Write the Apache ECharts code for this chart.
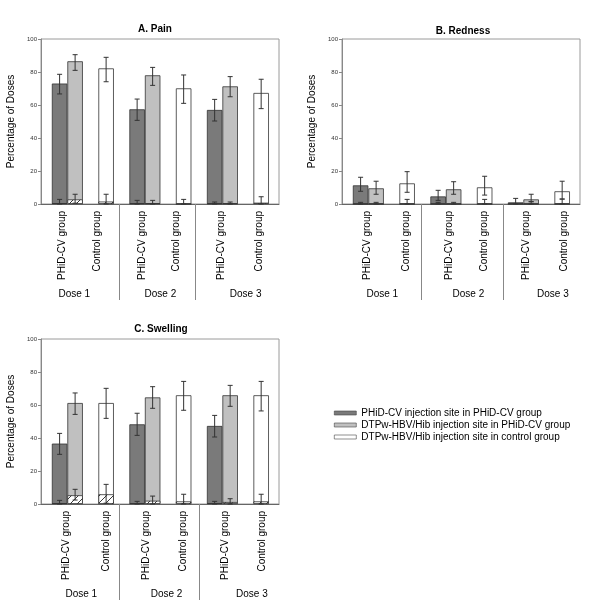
<!DOCTYPE html>
<html>
<head>
<meta charset="utf-8">
<script src="https://cdn.jsdelivr.net/npm/echarts@6/dist/echarts.min.js"></script>
<style>
html,body{margin:0;padding:0;background:#fff;}
#chart{width:600px;height:604px;}
</style>
</head>
<body>
<div id="chart"></div>
<script>
// ---------- data ----------
const doses = ['Dose 1', 'Dose 2', 'Dose 3'];
const groupLabels = ['PHiD-CV group', 'Control group'];
const seriesNames = [
  'PHiD-CV injection site in PHiD-CV group',
  'DTPw-HBV/Hib injection site in PHiD-CV group',
  'DTPw-HBV/Hib injection site in control group'
];
const yTicks = [0, 20, 40, 60, 80, 100];
const panelTitles = ['A. Pain', 'B. Redness', 'C. Swelling'];

// Pain
const painPhid = [73.0, 57.4, 57.0];
const painPhidErr = [[66.7, 78.6], [50.7, 63.6], [50.3, 63.4]];
const painDtpPhid = [86.5, 78.0, 71.3];
const painDtpPhidErr = [[81.0, 90.5], [71.9, 82.8], [65.0, 77.2]];
const painDtpCtrl = [82.2, 70.1, 67.3];
const painDtpCtrlErr = [[74.1, 88.9], [61.0, 78.2], [57.8, 75.6]];
const painG3Phid = [0.5, 0.4, 0.3];
const painG3PhidErr = [[0, 2.8], [0, 2.2], [0, 1.2]];
const painG3DtpPhid = [2.8, 0.4, 0.3];
const painG3DtpPhidErr = [[0.5, 5.9], [0, 2.2], [0, 1.2]];
const painG3DtpCtrl = [1.5, 0, 0.8];
const painG3DtpCtrlErr = [[0, 5.9], [0, 2.8], [0, 4.4]];

// Redness
const redPhid = [11.3, 4.6, 1.0];
const redPhidErr = [[7.7, 16.2], [2.2, 8.3], [0, 3.4]];
const redDtpPhid = [9.5, 8.9, 2.8];
const redDtpPhidErr = [[5.9, 13.8], [5.9, 13.5], [1.4, 5.9]];
const redDtpCtrl = [12.5, 10.1, 7.7];
const redDtpCtrlErr = [[7.1, 19.6], [5.4, 16.8], [3.0, 13.8]];
const redG3Phid = [0, 0, 0];
const redG3PhidErr = [[0, 1.0], [0, 1.0], [0, 0]];
const redG3DtpPhid = [0, 0, 0];
const redG3DtpPhidErr = [[0, 1.0], [0, 1.0], [0, 1.4]];
const redG3DtpCtrl = [0, 0, 0];
const redG3DtpCtrlErr = [[0, 2.8], [0, 2.8], [0, 3.0]];

// Swelling
const swPhid = [36.6, 48.3, 47.3];
const swPhidErr = [[30.1, 42.8], [41.6, 55.0], [40.6, 53.7]];
const swDtpPhid = [61.2, 64.6, 65.9];
const swDtpPhidErr = [[54.3, 67.3], [58.0, 71.1], [59.2, 71.9]];
const swDtpCtrl = [61.2, 65.9, 65.9];
const swDtpCtrlErr = [[51.9, 70.1], [56.8, 74.3], [56.4, 74.3]];
const swG3Phid = [0.5, 0.5, 0.5];
const swG3PhidErr = [[0, 2.2], [0, 1.6], [0, 1.6]];
const swG3DtpPhid = [5.3, 2.0, 1.2];
const swG3DtpPhidErr = [[2.4, 8.9], [0, 4.8], [0, 3.2]];
const swG3DtpCtrl = [5.9, 1.6, 1.6];
const swG3DtpCtrlErr = [[0.5, 11.9], [0, 5.9], [0, 5.9]];

// ---------- layout (not data) ----------
const FONT = '"Liberation Sans", Arial, sans-serif';
const colors = ['#7a7a7a', '#c0c0c0', '#ffffff'];
const slotOffset = [0, 1, 3];   // bar slot within a dose block (units)
const doseStep = 5;
const panels = [
  {grid: {left: 41, top: 39, width: 238, height: 165}, title: [155, 29],
   groupLabelPos: [0.15, 2.45, 5.3, 7.5, 10.4, 12.9], doseLabelPos: [0.95, 6.5, 12.0], sepPos: [3.85, 8.75],
   main: [painPhid, painDtpPhid, painDtpCtrl], mainErr: [painPhidErr, painDtpPhidErr, painDtpCtrlErr],
   g3: [painG3Phid, painG3DtpPhid, painG3DtpCtrl], g3Err: [painG3PhidErr, painG3DtpPhidErr, painG3DtpCtrlErr]},
  {grid: {left: 342, top: 39, width: 238, height: 165}, title: [463, 31],
   groupLabelPos: [0.4, 2.95, 5.7, 8.0, 10.7, 13.15], doseLabelPos: [1.4, 6.95, 12.4], sepPos: [3.9, 9.2],
   main: [redPhid, redDtpPhid, redDtpCtrl], mainErr: [redPhidErr, redDtpPhidErr, redDtpCtrlErr],
   g3: [redG3Phid, redG3DtpPhid, redG3DtpCtrl], g3Err: [redG3PhidErr, redG3DtpPhidErr, redG3DtpCtrlErr]},
  {grid: {left: 41, top: 339, width: 238, height: 165}, title: [161, 329],
   groupLabelPos: [0.4, 3.0, 5.6, 7.95, 10.7, 13.05], doseLabelPos: [1.4, 6.9, 12.4], sepPos: [3.85, 9.0],
   main: [swPhid, swDtpPhid, swDtpCtrl], mainErr: [swPhidErr, swDtpPhidErr, swDtpCtrlErr],
   g3: [swG3Phid, swG3DtpPhid, swG3DtpCtrl], g3Err: [swG3PhidErr, swG3DtpPhidErr, swG3DtpCtrlErr]}
];
const X_MIN = -1.2, X_MAX = 14.15;

function hatchPattern() {
  const c = document.createElement('canvas');
  c.width = 7; c.height = 7;
  const ctx = c.getContext('2d');
  ctx.fillStyle = '#fff';
  ctx.fillRect(0, 0, 7, 7);
  ctx.strokeStyle = '#222';
  ctx.lineWidth = 0.9;
  ctx.beginPath();
  ctx.moveTo(-1, 8); ctx.lineTo(8, -1);
  ctx.stroke();
  return c;
}
const hatch = {image: hatchPattern(), repeat: 'repeat'};

function nearestLabel(v, positions, labels) {
  let best = 0, bd = Infinity;
  positions.forEach((p, i) => { const d = Math.abs(p - v); if (d < bd) { bd = d; best = i; } });
  return labels[best];
}

const grids = [], xAxes = [], yAxes = [], series = [], graphics = [];
panels.forEach((p, g) => {
  grids.push(Object.assign({show: true, borderColor: '#9a9a9a', borderWidth: 1, containLabel: false, outerBoundsMode: 'none'}, p.grid));
  const groupNames = [];
  for (let d = 0; d < doses.length; d++) groupNames.push(groupLabels[0], groupLabels[1]);
  xAxes.push({
    type: 'value', gridIndex: g, min: X_MIN, max: X_MAX, position: 'bottom',
    splitLine: {show: false},
    axisLine: {show: true, onZero: false, lineStyle: {color: '#666', width: 1}},
    axisTick: {show: true, customValues: p.sepPos, length: 96, lineStyle: {color: '#888', width: 1}},
    axisLabel: {show: true, customValues: p.groupLabelPos, rotate: 90, margin: 7, fontSize: 10,
      fontFamily: FONT, color: '#000',
      formatter: v => nearestLabel(v, p.groupLabelPos, groupNames)}
  });
  xAxes.push({
    type: 'value', gridIndex: g, min: X_MIN, max: X_MAX, position: 'bottom',
    splitLine: {show: false}, axisLine: {show: false, onZero: false}, axisTick: {show: false},
    axisLabel: {show: true, customValues: p.doseLabelPos, margin: 85, fontSize: 10,
      fontFamily: FONT, color: '#000',
      formatter: v => nearestLabel(v, p.doseLabelPos, doses)}
  });
  yAxes.push({
    type: 'value', gridIndex: g, min: yTicks[0], max: yTicks[yTicks.length - 1], interval: yTicks[1] - yTicks[0],
    splitLine: {show: false},
    axisLine: {show: true, onZero: false, lineStyle: {color: '#888'}},
    axisTick: {show: true, length: 3, lineStyle: {color: '#888'}},
    axisLabel: {fontSize: 6, margin: 4, color: '#333', fontFamily: FONT, showMinLabel: true, showMaxLabel: true},
    name: 'Percentage of Doses', nameLocation: 'middle', nameGap: 25,
    nameTextStyle: {fontSize: 10, fontFamily: FONT, color: '#000'}
  });
  const xi = 2 * g;
  // main bars
  for (let s = 0; s < 3; s++) {
    series.push({
      type: 'bar', name: seriesNames[s], xAxisIndex: xi, yAxisIndex: g,
      barWidth: 15.5, barGap: '-100%', z: 2,
      itemStyle: {color: colors[s], borderColor: '#333', borderWidth: 0.8},
      data: p.main[s].map((v, d) => [d * doseStep + slotOffset[s], v])
    });
  }
  // grade-3 (hatched) bars
  const g3data = [];
  for (let s = 0; s < 3; s++) p.g3[s].forEach((v, d) => g3data.push([d * doseStep + slotOffset[s], v]));
  series.push({
    type: 'bar', name: 'grade3', xAxisIndex: xi, yAxisIndex: g,
    barWidth: 15.5, barGap: '-100%', z: 3,
    itemStyle: {color: hatch, borderColor: '#333', borderWidth: 0.8},
    data: g3data
  });
  // error bars
  const errData = [];
  for (let s = 0; s < 3; s++) {
    p.mainErr[s].forEach((e, d) => errData.push([d * doseStep + slotOffset[s], e[0], e[1]]));
    p.g3Err[s].forEach((e, d) => { if (e[1] > e[0]) errData.push([d * doseStep + slotOffset[s], e[0], e[1]]); });
  }
  series.push({
    type: 'custom', name: 'err', xAxisIndex: xi, yAxisIndex: g, z: 5,
    encode: {x: 0, y: [1, 2]},
    data: errData,
    renderItem: (params, api) => {
      const x = api.value(0);
      const lo = api.coord([x, api.value(1)]);
      const hi = api.coord([x, api.value(2)]);
      const cw = 2.5;
      const st = {stroke: '#333', lineWidth: 1};
      return {type: 'group', children: [
        {type: 'line', shape: {x1: lo[0], y1: lo[1], x2: hi[0], y2: hi[1]}, style: st},
        {type: 'line', shape: {x1: hi[0] - cw, y1: hi[1], x2: hi[0] + cw, y2: hi[1]}, style: st},
        {type: 'line', shape: {x1: lo[0] - cw, y1: lo[1], x2: lo[0] + cw, y2: lo[1]}, style: st}
      ]};
    }
  });
  graphics.push({type: 'text', x: p.title[0], y: p.title[1],
    style: {text: panelTitles[g], font: 'bold 10px ' + FONT, fill: '#000', textAlign: 'center', textVerticalAlign: 'middle'}});
});

const chart = echarts.init(document.getElementById('chart'), null, {renderer: 'canvas'});
chart.setOption({
  animation: false,
  backgroundColor: '#fff',
  textStyle: {fontFamily: FONT},
  grid: grids,
  xAxis: xAxes,
  yAxis: yAxes,
  legend: {
    data: seriesNames, orient: 'vertical', left: 334, top: 407, padding: 0,
    icon: 'rect', itemWidth: 22, itemHeight: 4, itemGap: 0, selectedMode: false,
    itemStyle: {borderWidth: 0.6, borderColor: '#444'},
    textStyle: {fontSize: 10, fontFamily: FONT, color: '#000', lineHeight: 12}
  },
  graphic: graphics,
  series: series
});
</script>
</body>
</html>
